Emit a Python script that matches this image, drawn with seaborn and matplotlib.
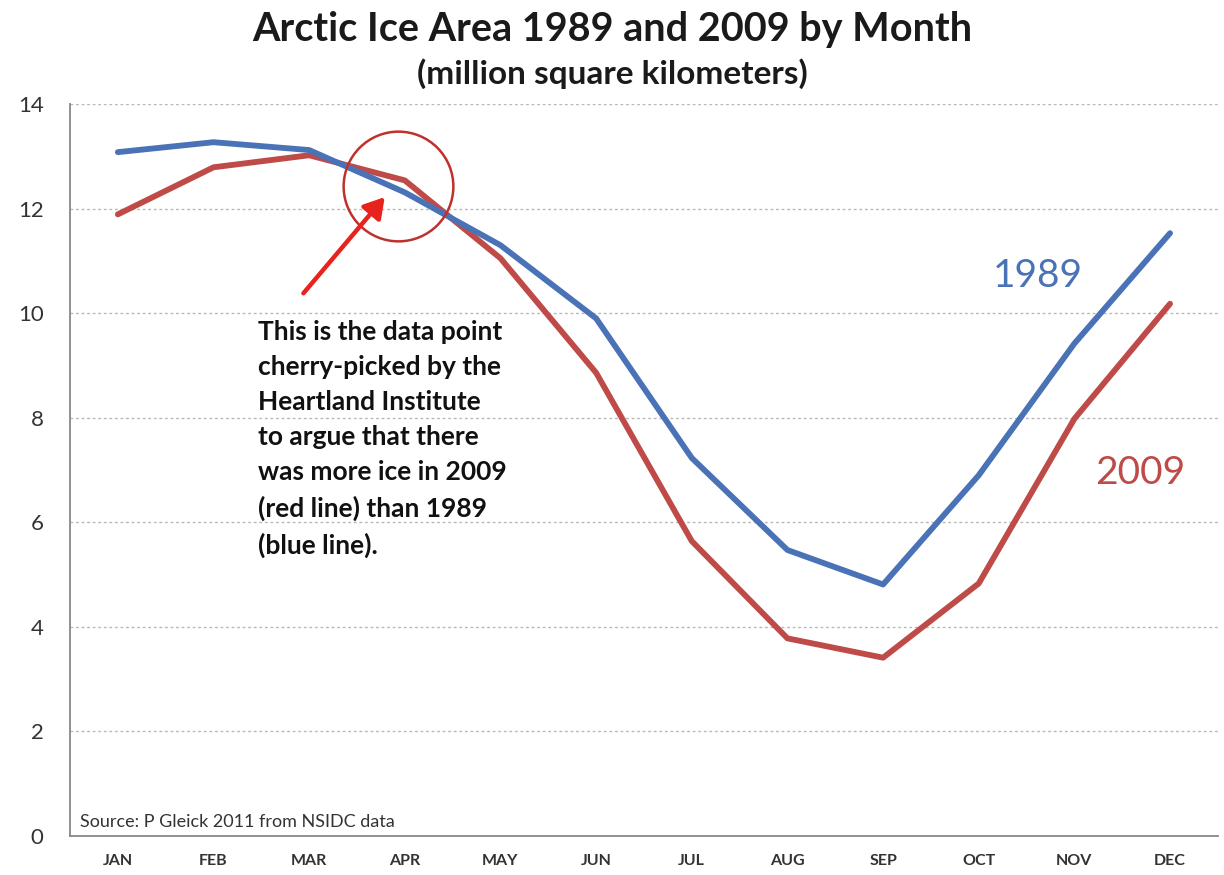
import matplotlib
matplotlib.use("Agg")
import matplotlib.pyplot as plt
import seaborn as sns
import pandas as pd
import numpy as np

months = ["JAN", "FEB", "MAR", "APR", "MAY", "JUN", "JUL", "AUG", "SEP", "OCT", "NOV", "DEC"]
ice_1989 = [13.08, 13.27, 13.12, 12.31, 11.30, 9.90, 7.23, 5.47, 4.81, 6.90, 9.42, 11.53]
ice_2009 = [11.89, 12.79, 13.02, 12.54, 11.05, 8.86, 5.64, 3.78, 3.41, 4.83, 7.98, 10.18]
y_ticks = [0, 2, 4, 6, 8, 10, 12, 14]

blue = "#4a72b6"
red = "#be4b48"

sns.set_theme(style="white")
plt.rcParams['font.family'] = ['Lato', 'DejaVu Sans']

df = pd.DataFrame({
    "idx": list(range(len(months))) * 2,
    "area": ice_1989 + ice_2009,
    "year": ["1989"] * len(months) + ["2009"] * len(months),
})

fig = plt.figure(figsize=(12.24, 8.75), dpi=100)
ax = fig.add_axes([0.0572, 0.0446, 0.9378, 0.8365])

sns.lineplot(data=df, x="idx", y="area", hue="year", palette={"1989": blue, "2009": red},
             hue_order=["1989", "2009"], linewidth=4.2, ax=ax, legend=False, zorder=3)
ax.lines[0].set_zorder(4)

ax.set_xlim(-0.5, len(months) - 0.5)
ax.set_ylim(0, 14)
ax.set_yticks(y_ticks)
ax.set_yticklabels([str(t) for t in y_ticks], fontsize=16, color="#333333")
ax.set_xticks(range(len(months)))
ax.set_xticklabels(months, fontsize=11.5, fontweight="bold", color="#333333")
ax.set_xticks(np.arange(-0.5, len(months), 1.0), minor=True)
ax.tick_params(axis="x", which="major", length=0, pad=13)
ax.tick_params(axis="x", which="minor", length=5, width=1, color="#888888", direction="out")
ax.tick_params(axis="y", which="major", length=5, width=1, color="#888888", direction="out", pad=14)
ax.set_xlabel("")
ax.set_ylabel("")

for t in y_ticks[1:]:
    ax.axhline(t, color="#b8b8b8", linestyle=(0, (2, 2)), linewidth=1.0, zorder=1)

for s in ["top", "right"]:
    ax.spines[s].set_visible(False)
ax.spines["left"].set_color("#888888")
ax.spines["bottom"].set_color("#888888")
ax.spines["left"].set_linewidth(1.3)
ax.spines["bottom"].set_linewidth(1.3)

fig.text(0.5, 0.966, "Arctic Ice Area 1989 and 2009 by Month", ha="center", va="center",
         fontsize=28.5, fontweight="bold", color="#1a1a1a")
fig.text(0.5, 0.916, "(million square kilometers)", ha="center", va="center",
         fontsize=24, fontweight="bold", color="#1a1a1a")

# series labels
ax.text(9.62, ice_1989[10] + 1.3, "1989", color=blue, fontsize=28, ha="center", va="center")
ax.text(10.69, ice_2009[10] - 1.04, "2009", color=red, fontsize=28, ha="center", va="center")

# circle around April
apr = months.index("APR")
ax.plot([apr - 0.07], [(ice_1989[apr] + ice_2009[apr]) / 2], marker="o", markersize=79,
        markerfacecolor="none", markeredgecolor="#c0302c", markeredgewidth=1.8, zorder=5)

# arrow
ax.annotate("", xy=(apr - 0.21, 12.22), xytext=(apr - 1.06, 10.38),
            arrowprops=dict(arrowstyle="-|>,head_length=1.0,head_width=0.6", color="#e8231e",
                            lw=3.2, shrinkA=0, shrinkB=0), zorder=6)

note = ("This is the data point\ncherry-picked by the\nHeartland Institute\nto argue that there\n"
        "was more ice in 2009\n(red line) than 1989\n(blue line).")
ax.text(1.47, 7.6, note, fontsize=19, fontweight="bold", color="#111111", ha="left", va="center",
        linespacing=1.55)

ax.text(-0.4, 0.12, "Source: P Gleick 2011 from NSIDC data", fontsize=13, color="#333333",
        ha="left", va="bottom")

fig.savefig("out.png", dpi=100, facecolor="white")
